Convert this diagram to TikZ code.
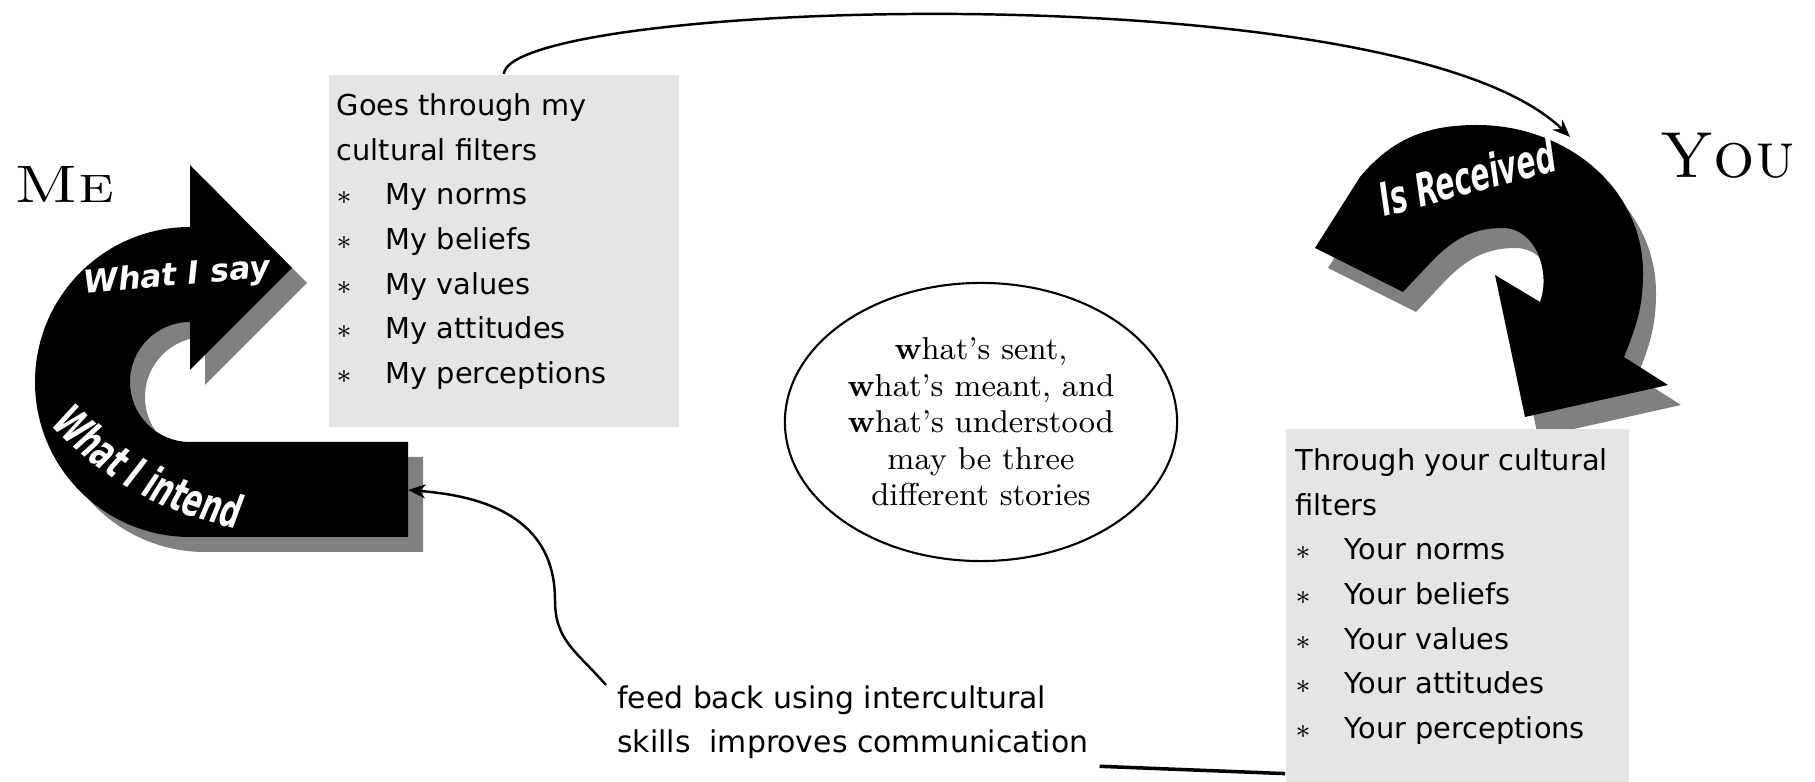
\documentclass[tikz,border=0pt]{standalone}
\usepackage{fontspec}
\setsansfont{DejaVu Sans}
\newfontfamily\armfont[FakeStretch=0.62]{DejaVu Sans}
\usepackage{tikz}
\usetikzlibrary{positioning, arrows.meta, shapes.geometric, calc, decorations.text}

\newcommand{\sayshape}{(190,555) arc[start angle=90, end angle=270, radius=155] -- (408,245) -- (408,340) -- (190,340) arc[start angle=270, end angle=90, radius=60] -- (190,412) -- (292,514) -- (190,617) -- cycle}
\newcommand{\receivedshape}{(1315,534) -- (1360,605) to[out=50, in=180] (1477,657) to[out=0, in=90] (1643,509) to[out=-90, in=68] (1624,425) -- (1668,397) -- (1525,365) -- (1495,507) -- (1540,480) to[out=70, in=0] (1503,554) to[out=180, in=45] (1433,522) -- (1403,490) -- cycle}
\newcommand{\fitem}[1]{\makebox[0.49cm][l]{$\ast$}#1}

\tikzset{
  filterbox/.style={fill=gray!20, inner sep=0pt, anchor=north west},
  filtertext/.style={font=\sffamily\fontsize{8.2}{12.7}\selectfont, align=left, inner sep=0pt, anchor=north west},
  arrowlabel/.style={font=\sffamily\bfseries\itshape\fontsize{9}{11}\selectfont, text=white},
  bigname/.style={font=\fontsize{15}{18}\selectfont, anchor=base west, inner sep=0pt},
  link/.style={line width=0.7pt, -{Stealth[length=5pt, width=4pt]}},
}

\begin{document}
\begin{tikzpicture}[x=0.01cm, y=0.01cm]
    \useasboundingbox (0,0) rectangle (1815,782);

    % the two curved arrows, each over its shadow
    \fill[gray, shift={(15,-15)}] \sayshape;
    \fill[black] \sayshape;
    \fill[gray, shift={(13,-20)}] \receivedshape;
    \fill[black] \receivedshape;

    \node (say) [arrowlabel, rotate=5] at (177,505) {What I say};
    \node (received) [arrowlabel, font=\armfont\bfseries\itshape\fontsize{13}{15}\selectfont, rotate=15] at (1467,605) {Is Received};
    \path[decorate, decoration={text along path, text color=white, text align=center,
        text={|\armfont\bfseries\itshape\fontsize{13}{15}\selectfont|What I intend}}]
        (40,368) to[bend right=18] (252,250);

    \coordinate (intendtail) at (408,292);
    \coordinate (receivedtop) at (1570,645);

    \node (me) [bigname] at (14,579) {\scalebox{1.22}[1]{\textsc{Me}}};
    \node (you) [bigname, font=\fontsize{18.5}{22}\selectfont] at (1660,604) {\textsc{You}};

    \node (myfilters) [filterbox, minimum width=3.5cm, minimum height=3.52cm] at (328,708) {};
    \node (mytext) [filtertext] at ([shift={(8,-19)}]myfilters.north west) {Goes through my\\cultural filters\\\fitem{My norms}\\\fitem{My beliefs}\\\fitem{My values}\\\fitem{My attitudes}\\\fitem{My perceptions}};

    \node (yourfilters) [filterbox, minimum width=3.43cm, minimum height=3.54cm] at (1285,354) {};
    \node (yourtext) [filtertext] at ([shift={(10,-20)}]yourfilters.north west) {Through your cultural\\filters\\\fitem{Your norms}\\\fitem{Your beliefs}\\\fitem{Your values}\\\fitem{Your attitudes}\\\fitem{Your perceptions}};

    \node (stories) [ellipse, draw, line width=0.6pt, minimum width=3.92cm, minimum height=2.78cm, inner sep=0pt, align=center, font=\fontsize{9}{10.4}\selectfont] at (981,360) {\textbf{w}hat’s sent,\\\textbf{w}hat’s meant, and\\\textbf{w}hat’s understood\\may be three\\different stories};

    \node (feedback) [filtertext, font=\sffamily\fontsize{8.5}{12.5}\selectfont, inner xsep=3pt] at (606,97) {feed back using intercultural\\skills\ \ improves communication};

    \draw[link] (myfilters.north) .. controls (510,782) and (1400,812) .. (receivedtop);
    \draw[link] (feedback.north west) .. controls (575,132) and (555,142) .. (555,182) .. controls (555,272) and (470,287) .. (intendtail);
    \draw[line width=1pt] ([yshift=-0.07cm]feedback.south east) -- ([yshift=0.1cm]yourfilters.south west);
\end{tikzpicture}
\end{document}
